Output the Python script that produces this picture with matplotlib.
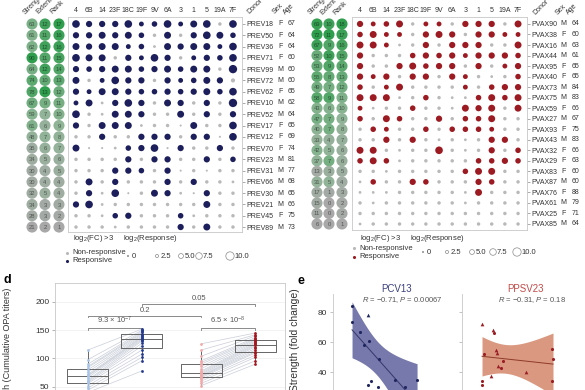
import matplotlib
matplotlib.use('Agg')
import matplotlib.pyplot as plt
import numpy as np
from matplotlib.colors import LinearSegmentedColormap

plt.rcParams['font.family'] = ['Liberation Sans', 'DejaVu Sans']
plt.rcParams['mathtext.fontset'] = 'custom'
plt.rcParams['mathtext.rm'] = 'Liberation Sans'
plt.rcParams['mathtext.it'] = 'Liberation Sans:italic'

W, H = 585, 390

serotypes = ['4', '6B', '14', '23F', '18C', '19F', '9V', '6A', '3', '1', '5', '19A', '7F']

# ---- PCV13 (PREV) donors ----
prev_donors = ['PREV18', 'PREV50', 'PREV36', 'PREV71', 'PREV99', 'PREV72', 'PREV62', 'PREV10',
               'PREV52', 'PREV17', 'PREV12', 'PREV70', 'PREV23', 'PREV31', 'PREV66', 'PREV30',
               'PREV21', 'PREV45', 'PREV89']
prev_sex = ['F', 'F', 'F', 'F', 'M', 'M', 'F', 'M', 'M', 'F', 'F', 'F', 'M', 'M', 'M', 'M', 'M', 'F', 'M']
prev_age = [67, 64, 64, 60, 60, 60, 65, 62, 64, 65, 69, 74, 81, 77, 68, 65, 66, 75, 73]
prev_strength = [63, 61, 62, 90, 64, 74, 78, 67, 59, 61, 48, 35, 34, 30, 30, 32, 34, 28, 21]
prev_extent = [12, 11, 12, 11, 12, 10, 13, 9, 7, 6, 7, 6, 5, 4, 4, 5, 3, 3, 2]
prev_rank = [17, 16, 16, 15, 14, 13, 12, 11, 10, 9, 8, 7, 6, 5, 4, 4, 3, 2, 1]
# log2(response) per serotype
prev_resp = [
    [9, 7, 7, 7, 9, 5, 6, 9, 5, 8, 9, 3, 9],
    [7, 7, 8, 7, 8, 6, 3, 8, 3, 7, 9, 8, 6],
    [8, 7, 8, 8, 5, 6, 2, 8, 7, 8, 8, 5, 9],
    [9, 8, 8, 3, 7, 5, 9, 7, 3, 5, 7, 6, 9],
    [7, 6, 7, 8, 8, 6, 7, 8, 6, 8, 8, 3, 10],
    [8, 3, 5, 9, 7, 7, 3, 7, 5, 6, 8, 7, 4],
    [7, 5, 8, 8, 7, 6, 6, 7, 6, 7, 8, 6, 9],
    [5, 8, 2, 7, 9, 7, 3, 8, 7, 3, 7, 3, 10],
    [9, 3, 2, 8, 8, 7, 3, 3, 8, 3, 7, 3, 7],
    [7, 3, 8, 8, 8, 2, 3, 3, 1, 8, 3, 3, 9],
    [3, 3, 7, 3, 3, 7, 7, 7, 3, 7, 7, 1, 9],
    [8, 1, 1, 2, 6, 7, 9, 1, 7, 3, 3, 7, 3],
    [3, 3, 3, 3, 7, 3, 7, 7, 3, 3, 7, 3, 6],
    [3, 3, 3, 7, 7, 6, 3, 7, 1, 3, 1, 3, 3],
    [3, 8, 3, 7, 3, 3, 3, 7, 3, 7, 3, 3, 2],
    [3, 7, 2, 9, 1, 3, 8, 7, 2, 1, 7, 3, 3],
    [7, 9, 2, 3, 3, 3, 3, 3, 3, 3, 8, 3, 3],
    [3, 3, 2, 6, 7, 3, 3, 3, 6, 2, 3, 3, 3],
    [3, 3, 3, 2, 3, 3, 3, 3, 7, 3, 8, 3, 3],
]
# log2(FC) > 3 (responsive)
prev_fc3 = [
    [1, 1, 1, 1, 1, 1, 1, 1, 1, 1, 1, 0, 1],
    [1, 1, 1, 1, 1, 1, 0, 1, 0, 1, 1, 1, 1],
    [1, 1, 1, 1, 1, 1, 0, 1, 1, 1, 1, 1, 1],
    [1, 1, 1, 0, 1, 1, 1, 1, 0, 1, 1, 1, 1],
    [1, 1, 1, 1, 1, 1, 1, 1, 1, 1, 1, 0, 1],
    [1, 0, 1, 1, 1, 1, 0, 1, 1, 1, 1, 1, 0],
    [1, 1, 1, 1, 1, 1, 1, 1, 1, 1, 1, 1, 1],
    [1, 1, 0, 1, 1, 1, 0, 1, 1, 0, 1, 0, 1],
    [1, 0, 0, 1, 1, 1, 0, 0, 1, 0, 1, 0, 1],
    [1, 0, 1, 1, 1, 0, 0, 0, 0, 1, 0, 0, 1],
    [0, 0, 1, 0, 0, 1, 1, 1, 0, 1, 1, 0, 1],
    [1, 0, 0, 0, 1, 1, 1, 0, 1, 0, 0, 1, 0],
    [0, 0, 0, 0, 1, 0, 1, 1, 0, 0, 1, 0, 1],
    [0, 0, 0, 1, 1, 1, 0, 1, 0, 0, 0, 0, 0],
    [0, 1, 0, 1, 0, 0, 0, 1, 0, 1, 0, 0, 0],
    [0, 1, 0, 1, 0, 0, 1, 1, 0, 0, 1, 0, 0],
    [1, 1, 0, 0, 0, 0, 0, 0, 0, 0, 1, 0, 0],
    [0, 0, 0, 1, 1, 0, 0, 0, 1, 0, 0, 0, 0],
    [0, 0, 0, 0, 0, 0, 0, 0, 1, 0, 1, 0, 0],
]

# ---- PPSV23 (PVAX) donors ----
pvax_donors = ['PVAX90', 'PVAX38', 'PVAX16', 'PVAX44', 'PVAX95', 'PVAX40', 'PVAX73', 'PVAX75',
               'PVAX59', 'PVAX27', 'PVAX93', 'PVAX43', 'PVAX32', 'PVAX29', 'PVAX83', 'PVAX87',
               'PVAX76', 'PVAX61', 'PVAX25', 'PVAX85']
pvax_sex = ['M', 'F', 'M', 'M', 'F', 'F', 'M', 'M', 'F', 'M', 'F', 'M', 'F', 'F', 'F', 'M', 'F', 'M', 'F', 'M']
pvax_age = [64, 60, 63, 61, 65, 65, 84, 83, 66, 67, 75, 83, 66, 63, 60, 60, 88, 79, 71, 64]
pvax_strength = [69, 72, 67, 52, 53, 55, 49, 58, 43, 47, 40, 33, 42, 37, 13, 31, 17, 15, 11, 6]
pvax_extent = [10, 11, 9, 10, 9, 8, 7, 9, 6, 7, 7, 4, 5, 7, 3, 5, 1, 0, 0, 0]
pvax_rank = [18, 17, 16, 15, 14, 13, 12, 11, 10, 9, 8, 7, 6, 6, 5, 4, 3, 2, 2, 1]
pvax_resp = [
    [7, 5, 6, 8, 3, 5, 5, 3, 7, 7, 7, 3, 8],
    [6, 8, 5, 5, 3, 7, 8, 7, 3, 7, 7, 5, 5],
    [8, 8, 5, 2, 3, 7, 3, 7, 7, 7, 3, 3, 8],
    [7, 3, 3, 3, 6, 7, 6, 7, 5, 7, 7, 7, 6],
    [7, 3, 3, 7, 8, 6, 7, 7, 3, 7, 3, 5, 7],
    [7, 5, 7, 3, 7, 7, 3, 7, 5, 3, 2, 3, 6],
    [6, 3, 5, 8, 3, 3, 3, 3, 5, 3, 6, 7, 7],
    [8, 8, 8, 2, 3, 6, 3, 2, 2, 6, 8, 6, 8],
    [5, 2, 3, 3, 6, 3, 3, 2, 8, 7, 8, 3, 8],
    [6, 3, 8, 6, 3, 3, 7, 3, 6, 6, 8, 3, 3],
    [3, 6, 5, 3, 3, 6, 3, 6, 6, 6, 5, 3, 3],
    [3, 3, 7, 3, 7, 3, 2, 3, 2, 3, 7, 7, 3],
    [8, 8, 3, 2, 3, 3, 9, 3, 2, 3, 7, 3, 6],
    [6, 8, 6, 2, 3, 3, 3, 3, 3, 6, 6, 7, 6],
    [3, 3, 2, 3, 3, 3, 3, 3, 6, 8, 8, 3, 3],
    [2, 6, 3, 3, 7, 6, 3, 3, 3, 7, 6, 3, 3],
    [2, 2, 2, 3, 3, 3, 3, 3, 2, 8, 3, 3, 3],
    [3, 2, 3, 3, 3, 3, 3, 3, 2, 3, 3, 3, 3],
    [3, 3, 3, 3, 3, 3, 3, 3, 3, 3, 3, 3, 3],
    [2, 3, 3, 3, 3, 3, 3, 3, 3, 3, 3, 3, 3],
]
pvax_fc3 = [
    [1, 1, 1, 1, 0, 1, 1, 0, 1, 1, 1, 0, 1],
    [1, 1, 1, 1, 0, 1, 1, 1, 0, 1, 1, 1, 1],
    [1, 1, 1, 0, 0, 1, 0, 1, 1, 1, 0, 0, 1],
    [1, 0, 0, 0, 1, 1, 1, 1, 1, 1, 1, 1, 1],
    [1, 0, 0, 1, 1, 1, 1, 1, 0, 1, 0, 1, 1],
    [1, 1, 1, 0, 1, 1, 0, 1, 1, 0, 0, 0, 1],
    [1, 0, 1, 1, 0, 0, 0, 0, 1, 0, 1, 1, 1],
    [1, 1, 1, 0, 0, 1, 0, 0, 0, 1, 1, 1, 1],
    [1, 0, 0, 0, 1, 0, 0, 0, 1, 1, 1, 0, 1],
    [1, 0, 1, 1, 0, 0, 1, 0, 1, 1, 1, 0, 0],
    [0, 1, 1, 0, 0, 1, 0, 1, 1, 1, 1, 0, 0],
    [0, 0, 1, 0, 1, 0, 0, 0, 0, 0, 1, 1, 0],
    [1, 1, 0, 0, 0, 0, 1, 0, 0, 0, 1, 0, 1],
    [1, 1, 1, 0, 0, 0, 0, 0, 0, 1, 1, 1, 1],
    [0, 0, 0, 0, 0, 0, 0, 0, 1, 1, 1, 0, 0],
    [0, 1, 0, 0, 1, 1, 0, 0, 0, 1, 1, 0, 0],
    [0, 0, 0, 0, 0, 0, 0, 0, 0, 1, 0, 0, 0],
    [0, 0, 0, 0, 0, 0, 0, 0, 0, 0, 0, 0, 0],
    [0, 0, 0, 0, 0, 0, 0, 0, 0, 0, 0, 0, 0],
    [0, 0, 0, 0, 0, 0, 0, 0, 0, 0, 0, 0, 0],
]

# ---- panel d: cumulative OPA titers, pre / post ----
pcv_pre = [115, 98, 90, 86, 84, 80, 76, 72, 70, 69, 66, 62, 60, 58, 56, 52, 48, 44, 40]
pcv_post = [152, 150, 148, 146, 144, 142, 140, 138, 137, 135, 133, 131, 127, 122, 115, 108, 102, 96, 78]
ppsv_pre = [126, 115, 104, 96, 93, 90, 86, 82, 78, 76, 74, 72, 70, 69, 68, 66, 63, 60, 56, 52]
ppsv_post = [145, 142, 140, 137, 135, 133, 131, 129, 127, 125, 123, 121, 118, 115, 112, 110, 106, 102, 96, 90]

# ---- panel e: strength vs x ----
pcv_x = [1.56, 1.56, 2.87, 2.21, 2.54, 2.95, 3.77, 2.87, 3.11, 3.69, 5.08, 5.9, 5.41, 6.89]
pcv_y = [84.3, 73.8, 78, 67, 58.5, 61, 48.6, 31.6, 34, 30, 35, 30, 27, 34.5]
pcv_tri = [0, 0, 1, 0, 0, 0, 0, 0, 0, 0, 0, 0, 0, 0]
ppsv_x = [1.64, 2.62, 2.54, 1.8, 2.79, 2.87, 3.36, 2.95, 3.2, 1.64, 1.64, 2.38, 5.25, 7.38, 7.46, 7.38]
ppsv_y = [72, 66.5, 68.5, 52, 55, 53, 47.4, 44, 42.5, 34, 31.6, 37.5, 40, 55.5, 49, 34]
ppsv_tri = [1, 0, 1, 0, 1, 1, 0, 1, 0, 0, 0, 1, 1, 0, 0, 0]

NAVY = '#1d1f5c'
RED = '#9c1b22'
GREY = '#b9b9b9'
FRAME = '#c8c8c8'
TXT = '#333333'
FS = 5.0


def rect(x0, y0, x1, y1):
    return [x0 / W, 1 - y1 / H, (x1 - x0) / W, (y1 - y0) / H]


def dsize(v):
    return (1.0 + 0.5 * np.asarray(v, dtype=float)) ** 2


fig = plt.figure(figsize=(5.85, 3.9), dpi=100)

green_cmap = LinearSegmentedColormap.from_list('g', ['#a8a8a8', '#8fb596', '#2f9e4d'])


def dot_panel(ax, donors, sex, age, strength, extent, rank, resp, fc3, col,
              score_x, sex_x, age_x, head_x):
    R = np.array(resp)
    F = np.array(fc3)
    n = R.shape[0]
    rr, cc = np.indices(R.shape)
    non = F == 0
    ax.scatter(cc[non], rr[non], s=dsize(R[non]), color=GREY, lw=0)
    ax.scatter(cc[~non], rr[~non], s=dsize(R[~non]), color=col, lw=0)
    ax.set_xticks(range(len(serotypes)))
    ax.set_xticklabels(serotypes)
    ax.xaxis.tick_top()
    ax.tick_params(axis='x', length=0, pad=2.5, labelsize=FS, colors=TXT)
    ax.yaxis.tick_right()
    ax.set_yticks(range(n))
    ax.set_yticklabels(donors)
    ax.tick_params(axis='y', length=2.5, width=0.5, color='#888888', pad=1.0,
                   labelsize=FS, labelcolor=TXT)
    for s in ax.spines.values():
        s.set_color(FRAME)
        s.set_linewidth(0.6)
    for i in range(n):
        ax.text(sex_x, i, sex[i], ha='center', va='center', fontsize=FS, color=TXT, clip_on=False)
        ax.text(age_x, i, str(age[i]), ha='center', va='center', fontsize=FS, color=TXT, clip_on=False)
    # strength / extent / rank circles
    for xs, vals in zip(score_x, [strength, extent, rank]):
        v = np.array(vals, dtype=float)
        nv = (v - v.min()) / (v.max() - v.min())
        cols = green_cmap(nv)
        ax.scatter(np.full(n, xs), np.arange(n), s=64, c=cols, lw=0, clip_on=False)
        for i in range(n):
            tc = tuple(np.array(cols[i][:3]) * 0.5)
            ax.text(xs, i + 0.05, str(vals[i]), ha='center', va='center', fontsize=4.2,
                    color=tc, clip_on=False)
    top = ax.get_ylim()[1]
    for xs, lab in zip(head_x, ['Strength', 'Extent', 'Rank', 'Donor', 'Sex', 'Age']):
        ax.text(xs, top - 0.1, lab, rotation=45, rotation_mode='anchor', ha='left',
                va='bottom', fontsize=FS, color=TXT, clip_on=False)


axL = fig.add_axes(rect(68, 17, 242, 232))
axL.set_xlim(-0.61, 12.69)
axL.set_ylim(18.44, -0.62)
dot_panel(axL, prev_donors, prev_sex, prev_age, prev_strength, prev_extent, prev_rank,
          prev_resp, prev_fc3, NAVY, [-3.36, -2.37, -1.30], 15.6, 16.45,
          [-3.75, -2.75, -1.7, 13.4, 15.3, 16.15])

axR = fig.add_axes(rect(352, 17, 527, 230))
axR.set_xlim(-0.61, 12.68)
axR.set_ylim(19.57, -0.66)
dot_panel(axR, pvax_donors, pvax_sex, pvax_age, pvax_strength, pvax_extent, pvax_rank,
          pvax_resp, pvax_fc3, RED, [-3.27, -2.36, -1.37], 15.45, 16.4,
          [-3.65, -2.75, -1.8, 13.4, 15.1, 15.95])

# ---- legends (pixel coordinates overlay) ----
ov = fig.add_axes([0, 0, 1, 1], zorder=-1)
ov.set_xlim(0, W)
ov.set_ylim(H, 0)
ov.axis('off')

size_levels = [0, 2.5, 5.0, 7.5, 10.0]


def legend_block(x0, col, y_head, y_non, y_resp, y_size, size_xs):
    ov.text(x0 + 5, y_head, r'log$_2$(FC) >3', fontsize=5.5, color=TXT, va='center')
    ov.text(x0 + 55, y_head, r'log$_2$(Response)', fontsize=5.5, color=TXT, va='center')
    ov.scatter([x0 - 1], [y_non], s=5, color=GREY, lw=0)
    ov.scatter([x0 - 1], [y_resp], s=5, color=col, lw=0)
    ov.text(x0 + 4, y_non, 'Non-responsive', fontsize=5.5, color=TXT, va='center')
    ov.text(x0 + 4, y_resp, 'Responsive', fontsize=5.5, color=TXT, va='center')
    for sx, lv in zip(size_xs, size_levels):
        ov.scatter([sx], [y_size], s=dsize(lv), facecolor='none', edgecolor='#8a8a8a', lw=0.5)
        ov.text(sx + 4, y_size, f'{lv:g}' if lv == 0 else f'{lv:.1f}', fontsize=5.5,
                color=TXT, va='center')


legend_block(68, NAVY, 239, 253, 261, 256, [128, 157, 181, 199, 230])
legend_block(355, RED, 239, 248, 257, 252, [423, 447, 472, 493, 517])

ov.text(4, 280, 'd', fontsize=9, fontweight='bold', va='center')
ov.text(298, 281, 'e', fontsize=9, fontweight='bold', va='center')
ov.text(8, 288, 'Strength (Cumulative OPA titers)', rotation=90, rotation_mode='anchor',
        ha='right', va='center', fontsize=6.5, color=TXT)
ov.text(295, 288, 'Strength (fold change)', rotation=90, rotation_mode='anchor',
        ha='right', va='center', fontsize=7.5, color=TXT)

# ---- panel d ----
axd = fig.add_axes(rect(55, 283, 285, 415))
axd.set_xlim(-0.61, 3.65)
axd.set_ylim(0, 233.5)
pos = [0, 1, 2.1, 3.1]
for pre, post, p0, p1 in [(pcv_pre, pcv_post, pos[0], pos[1]), (ppsv_pre, ppsv_post, pos[2], pos[3])]:
    for a, b in zip(pre, post):
        axd.plot([p0, p1], [a, b], color='#c9ced8', lw=0.5, zorder=1)
axd.scatter(np.full(len(pcv_pre), pos[0]), pcv_pre, s=4, color='#a9c4e6', lw=0, zorder=3)
axd.scatter(np.full(len(pcv_post), pos[1]), pcv_post, s=4, color='#243a8c', lw=0, zorder=3)
axd.scatter(np.full(len(ppsv_pre), pos[2]), ppsv_pre, s=4, color='#f2a9aa', lw=0, zorder=3)
axd.scatter(np.full(len(ppsv_post), pos[3]), ppsv_post, s=4, color='#a5161e', lw=0, zorder=3)
bp_style = dict(color='#666666', lw=0.7)
axd.boxplot([pcv_pre, pcv_post, ppsv_pre, ppsv_post], positions=pos, widths=0.76,
            showfliers=False, boxprops=bp_style, whiskerprops=bp_style, capprops=dict(lw=0),
            medianprops=bp_style, manage_ticks=False, zorder=2)


def bracket(x0, x1, y, label):
    axd.plot([x0, x0, x1, x1], [y - 3, y, y, y - 3], color='#777777', lw=0.6)
    axd.text((x0 + x1) / 2, y + 3, label, ha='center', va='bottom', fontsize=5.5, color='#555555')


bracket(pos[0], pos[1], 154, r'9.3 × 10$^{-7}$')
bracket(pos[2], pos[3], 154, r'6.5 × 10$^{-8}$')
bracket(pos[0], pos[2], 175.5, '0.2')
bracket(pos[1], pos[3], 196.5, '0.05')
axd.set_yticks([50, 100, 150, 200])
axd.set_xticks([])
axd.tick_params(axis='y', length=2, width=0.5, color='#999999', labelsize=6, labelcolor=TXT, pad=2)
axd.grid(axis='y', color='#efefef', lw=0.5)
axd.set_axisbelow(True)
for s in axd.spines.values():
    s.set_color(FRAME)
    s.set_linewidth(0.6)


# ---- panel e ----
def reg_panel(ax, x, y, tri, col, band, line, title, tcol, stat):
    x = np.asarray(x, dtype=float)
    y = np.asarray(y, dtype=float)
    tri = np.asarray(tri) == 1
    b, a = np.polyfit(x, y, 1)
    xs = np.linspace(x.min(), x.max(), 60)
    n = len(x)
    res = y - (a + b * x)
    s = np.sqrt(np.sum(res ** 2) / (n - 2))
    se = s * np.sqrt(1 / n + (xs - x.mean()) ** 2 / np.sum((x - x.mean()) ** 2))
    fit = a + b * xs
    ax.fill_between(xs, fit - 3.0 * se, fit + 3.0 * se, color=band, alpha=0.85, lw=0, zorder=1)
    ax.plot(xs, fit, color=line, lw=0.7, zorder=2)
    ax.scatter(x[~tri], y[~tri], s=5, color=col, marker='o', lw=0, zorder=3)
    ax.scatter(x[tri], y[tri], s=7, color=col, marker='^', lw=0, zorder=3)
    ax.set_xlim(0, 10)
    ax.set_ylim(8, 92.3)
    for k in ['top', 'right', 'bottom']:
        ax.spines[k].set_visible(False)
    ax.spines['left'].set_color(FRAME)
    ax.spines['left'].set_linewidth(0.6)
    ax.set_xticks([])
    ax.set_yticks([20, 40, 60, 80])
    ax.tick_params(axis='y', length=2.5, width=0.5, color='#aaaaaa', labelsize=6,
                   labelcolor=TXT, pad=2)
    ax.text(0.52, 1.0, title, transform=ax.transAxes, ha='center', va='bottom', fontsize=7,
            color=tcol)
    ax.text(0.57, 0.955, stat, transform=ax.transAxes, ha='center', va='center', fontsize=5.5,
            color='#555555')


axe1 = fig.add_axes(rect(333, 294, 455, 420))
reg_panel(axe1, pcv_x, pcv_y, pcv_tri, '#1f2660', '#5f619c', '#34366b', 'PCV13', '#3c4282',
          r'$R$ = −0.71, $P$ = 0.00067')
axe2 = fig.add_axes(rect(462, 294, 584, 420))
reg_panel(axe2, ppsv_x, ppsv_y, ppsv_tri, '#9b1d24', '#d4866a', '#8e3a2a', 'PPSV23', '#c24a48',
          r'$R$ = −0.31, $P$ = 0.18')
axe2.set_yticklabels([])

fig.savefig('out.png', dpi=100)
